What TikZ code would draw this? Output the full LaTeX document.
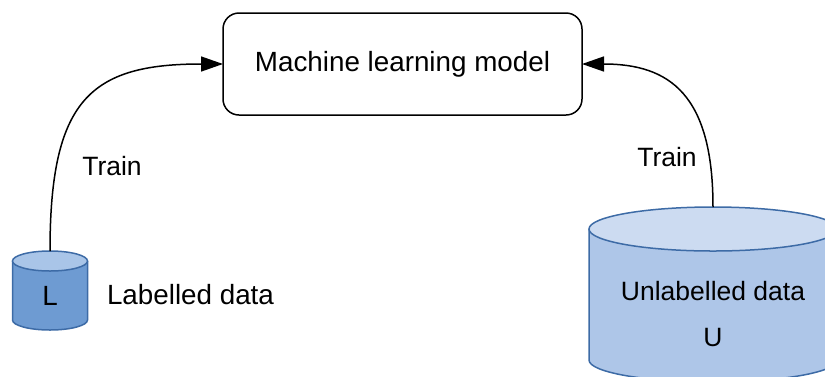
\documentclass[tikz,border=0pt]{standalone}
\usepackage{fontspec}
\setmainfont{Liberation Sans}
\usetikzlibrary{arrows.meta}
\definecolor{smallbody}{HTML}{6E9BD2}
\definecolor{smalltop}{HTML}{A9C5E8}
\definecolor{bigbody}{HTML}{AEC6E8}
\definecolor{bigtop}{HTML}{CCDBF1}
\definecolor{cylline}{HTML}{3D6BA6}
\tikzset{
  big/.style={font=\fontsize{27.8}{33}\selectfont},
  mid/.style={font=\fontsize{26.5}{32}\selectfont},
  modelbox/.style={draw=black, line width=1.5pt, rounded corners=16pt, fill=white},
  cyl/.style={draw=cylline, line width=1.5pt},
  link/.style={line width=1.5pt, -{Triangle[length=22pt,width=15pt]}},
}
\begin{document}
\begin{tikzpicture}[x=1pt,y=-1pt]
\useasboundingbox (0,0) rectangle (825,376);
\clip (0,0) rectangle (825,376);

% model box
\draw[modelbox] (223,13) rectangle (582,115);
\node[big] (model) at (402.5,64) {Machine learning model};
\coordinate (mwest) at (223,64);
\coordinate (meast) at (582,64);

% small cylinder (labelled data)
\fill[smallbody] (12.5,261) -- (12.5,320) arc[start angle=180,end angle=0,x radius=37.5,y radius=10] -- (87.5,261) -- cycle;
\draw[cyl] (12.5,261) -- (12.5,320) arc[start angle=180,end angle=0,x radius=37.5,y radius=10] -- (87.5,261);
\draw[cyl, fill=smalltop] (50,261) ellipse[x radius=37.5, y radius=10];
\coordinate (Ltop) at (50,251);
\node[big] (L) at (50,296) {L};
\node[big] (Llabel) at (190.5,295) {Labelled data};

% large cylinder (unlabelled data)
\fill[bigbody] (589,229) -- (589,360) arc[start angle=180,end angle=0,x radius=124,y radius=22] -- (837,229) -- cycle;
\draw[cyl] (589,229) -- (589,360) arc[start angle=180,end angle=0,x radius=124,y radius=22] -- (837,229);
\draw[cyl, fill=bigtop] (713,229) ellipse[x radius=124, y radius=22];
\coordinate (Utop) at (713,207);
\node[mid] (Ulabel) at (713,291) {Unlabelled data};
\node[mid] (U) at (713,338) {U};

% training connectors
\draw[link] (Ltop) .. controls (50,100) and (90,64) .. (mwest);
\draw[link] (Utop) .. controls (713,95) and (670,64) .. (meast);
\node[mid] (trainL) at (112,166) {Train};
\node[mid] (trainU) at (667,157) {Train};
\end{tikzpicture}
\end{document}
